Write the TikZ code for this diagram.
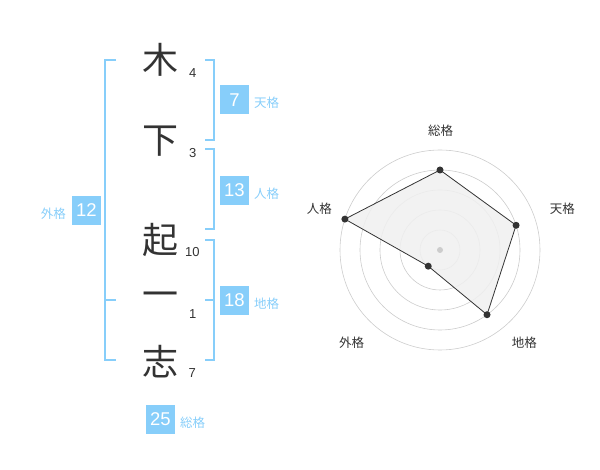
\documentclass[tikz,border=0pt]{standalone}
\usepackage{fontspec}
\setmainfont{Liberation Sans}
\newfontfamily\jpfont{Noto Sans CJK JP}
\usepackage{xcolor}
\definecolor{skyb}{HTML}{87CEFA}
\definecolor{ink}{HTML}{333333}
\definecolor{ring}{HTML}{CCCCCC}
\definecolor{area}{HTML}{F0F0F0}
\tikzset{
  kanji/.style={text=ink, inner sep=0pt, font=\jpfont\fontsize{36}{36}\selectfont},
  strokes/.style={text=ink, inner sep=0pt, font=\fontsize{13}{13}\selectfont},
  valbox/.style={fill=skyb, text=white, inner sep=0pt, minimum width=29pt, minimum height=29pt, font=\fontsize{18.5}{19}\selectfont},
  kaku/.style={text=skyb, inner sep=0pt, font=\jpfont\fontsize{12.5}{12.5}\selectfont},
  bracket/.style={skyb, line width=2pt},
  axislabel/.style={text=ink, inner sep=0pt, font=\jpfont\fontsize{12.5}{12.5}\selectfont},
  dot/.style={circle, fill=ink, inner sep=0pt, minimum size=7pt},
}

\begin{document}
\begin{tikzpicture}[x=1pt, y=-1pt]
        \useasboundingbox (0,0) rectangle (600,470);
        % name
        \node[kanji] (ki) at (160, 60) {木};
        \node[kanji] (shita) at (160, 141) {下};
        \node[kanji] (oki) at (160, 240) {起};
        \node[kanji] (ichi) at (160, 300) {一};
        \node[kanji] (kokoro) at (160, 362) {志};
        \node[strokes] (nki) at (192.7, 72.7) {4};
        \node[strokes] (nshita) at (192.7, 153.3) {3};
        \node[strokes] (noki) at (192.3, 252.3) {10};
        \node[strokes] (nichi) at (192.7, 314) {1};
        \node[strokes] (nkokoro) at (192.3, 373.3) {7};
        % brackets
        \draw[bracket] (116, 60) -- (105, 60) -- (105, 360) -- (116, 360);
        \draw[bracket] (105, 300) -- (116, 300);
        \draw[bracket] (205, 60) -- (214, 60) -- (214, 140) -- (205, 140);
        \draw[bracket] (205, 149) -- (214, 149) -- (214, 229) -- (205, 229);
        \draw[bracket] (205, 240) -- (214, 240) -- (214, 360) -- (205, 360);
        \draw[bracket] (205, 300) -- (214, 300);
        % values
        \node[valbox] (ten) at (234.5, 100) {7};
        \node[kaku, anchor=west] (tenl) at (254, 103) {天格};
        \node[valbox] (jin) at (234.5, 190.5) {13};
        \node[kaku, anchor=west] (jinl) at (254, 194) {人格};
        \node[valbox] (chi) at (234.5, 300.5) {18};
        \node[kaku, anchor=west] (chil) at (254, 304) {地格};
        \node[valbox] (gai) at (86.5, 210.5) {12};
        \node[kaku, anchor=east] (gail) at (66, 214) {外格};
        \node[valbox] (sou) at (160.5, 419.5) {25};
        \node[kaku, anchor=west] (soul) at (180, 423) {総格};
        % radar
        \begin{scope}[shift={(440, 250)}, y=1pt]
        \foreach \r in {20, 40, ..., 100}
            \draw[ring, line width=0.6pt] (0,0) circle (\r);
        \coordinate (psou) at (90:80);
        \coordinate (pten) at (18:80);
        \coordinate (pchi) at (-54:80);
        \coordinate (pgai) at (-126:20);
        \coordinate (pjin) at (162:100);
        \draw[ink, fill=area, fill opacity=0.85, line width=0.8pt] (psou) -- (pten) -- (pchi) -- (pgai) -- (pjin) -- cycle;
        \foreach \p in {psou, pten, pchi, pgai, pjin}
            \node[dot] at (\p) {};
        \node[circle, fill=ring, inner sep=0pt, minimum size=6pt] (mid) at (0,0) {};
        \node[axislabel] (asou) at (0.7, 119.3) {総格};
        \node[axislabel] (aten) at (122.3, 41) {天格};
        \node[axislabel] (ajin) at (-120.7, 41) {人格};
        \node[axislabel] (achi) at (84.3, -92.3) {地格};
        \node[axislabel] (agai) at (-88.3, -92.3) {外格};
        \end{scope}
        \end{tikzpicture}
\end{document}
